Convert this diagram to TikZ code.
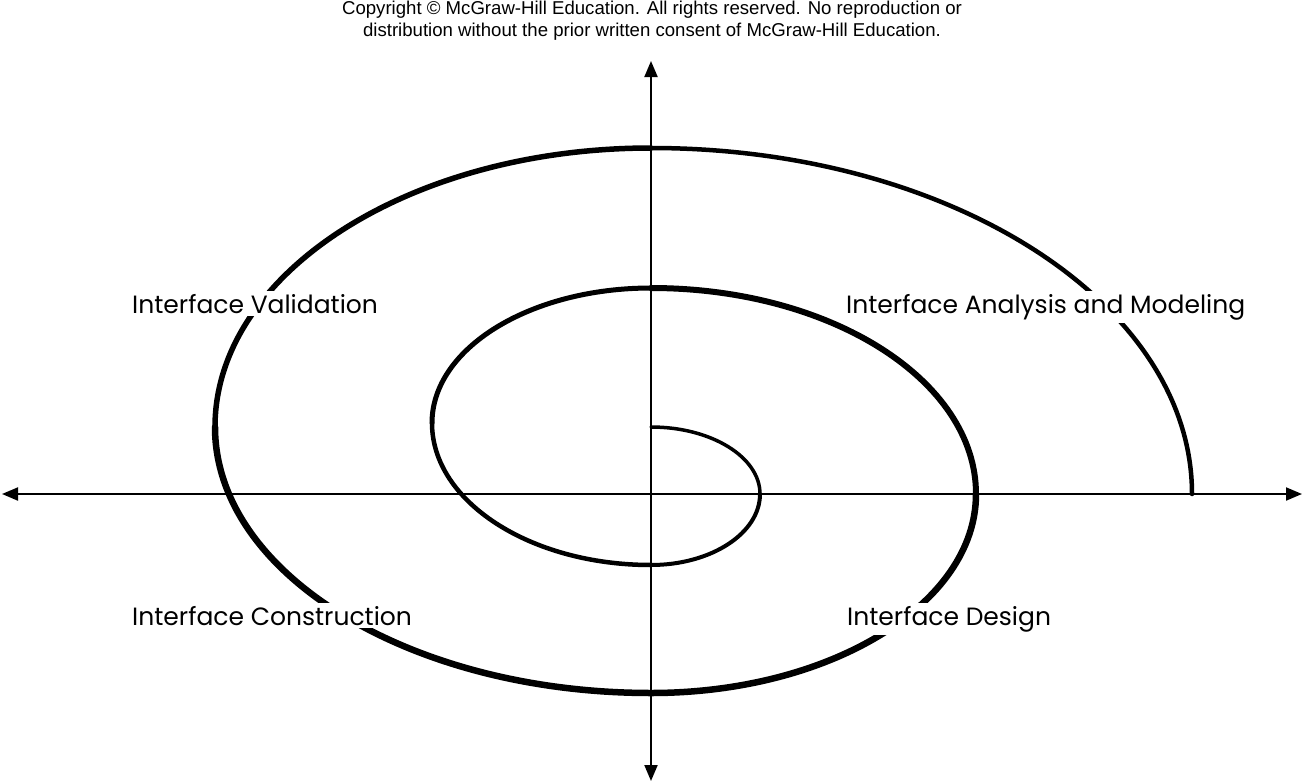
\documentclass[tikz,border=0pt]{standalone}
\usepackage{fontspec}
\setmainfont{Poppins}
\newfontfamily\arialfont{Liberation Sans}
\usetikzlibrary{arrows.meta}
\begin{document}
\begin{tikzpicture}[x=1pt,y=-1pt,
  axisline/.style={line width=2pt,-{Triangle[length=16pt,width=13pt]}},
  spiral/.style={line cap=round,line join=round},
  label/.style={font=\fontsize{25}{30}\selectfont,anchor=base west,inner xsep=0pt,inner ysep=3pt,fill=white}]
\useasboundingbox (0,0) rectangle (1304,782);
% axes
\coordinate (O) at (651,494);
\coordinate (L) at (2,494);
\coordinate (R) at (1302,494);
\coordinate (T) at (651,61);
\coordinate (B) at (651,781);
\draw[axisline] (O) -- (R);
\draw[axisline] (O) -- (L);
\draw[axisline] (O) -- (T);
\draw[axisline] (O) -- (B);
% spiral points
\coordinate (p1) at (651,427);
\coordinate (p2) at (760,494);
\coordinate (p3) at (651,565);
\coordinate (p4) at (432,423);
\coordinate (p5) at (651,288);
\coordinate (p6) at (976,494);
\coordinate (p7) at (651,693);
\coordinate (p8) at (215,427);
\coordinate (p9) at (651,148);
\coordinate (p10) at (1192,494);
\draw[spiral,line width=3.5pt] (p1) .. controls (711.2,427) and (760,457.0) .. (p2);
\draw[spiral,line width=4pt] (p2) .. controls (760,533.2) and (711.2,565) .. (p3);
\draw[spiral,line width=4.5pt] (p3) .. controls (530.0,565) and (432,501.4) .. (p4);
\draw[spiral,line width=5pt] (p4) .. controls (432,348.4) and (530.0,288) .. (p5);
\draw[spiral,line width=6pt] (p5) .. controls (830.5,288) and (976,380.2) .. (p6);
\draw[spiral,line width=6.5pt] (p6) .. controls (976,603.9) and (830.5,693) .. (p7);
\draw[spiral,line width=6.5pt] (p7) .. controls (410.2,693) and (215,573.9) .. (p8);
\draw[spiral,line width=5.5pt] (p8) .. controls (215,272.9) and (410.2,148) .. (p9);
\draw[spiral,line width=4.5pt] (p9) .. controls (949.8,148) and (1192,302.9) .. (p10);
% labels
\node[label] (val) at (132,313) {Interface Validation};
\node[label] (ana) at (846,313) {Interface Analysis and Modeling};
\node[label] (con) at (132,625) {Interface Construction};
\node[label] (des) at (847,625) {Interface Design};
% copyright
\node[font=\arialfont\fontsize{18.6}{22.5}\selectfont,align=center,inner sep=0pt] (copy) at (652,20.5)
  {Copyright \textcopyright{} McGraw-Hill Education. All rights reserved. No reproduction or\\
   distribution without the prior written consent of McGraw-Hill Education.};
\end{tikzpicture}
\end{document}
